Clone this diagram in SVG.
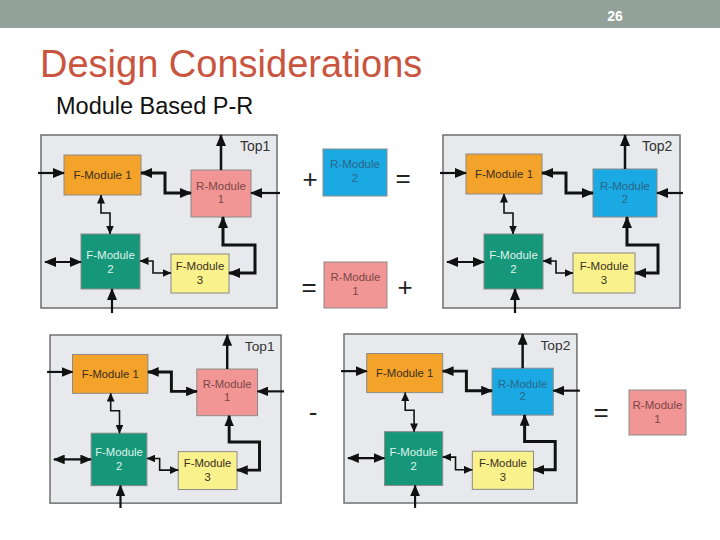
<svg xmlns="http://www.w3.org/2000/svg" width="720" height="540" viewBox="0 0 720 540">
<style>
.panel{fill:#e7e9ec;stroke:#6e6e6e;stroke-width:1.5}
.box{stroke:#8a8a8a;stroke-width:1}
.f1{fill:#f3a22a}
.f2{fill:#17977a}
.f3{fill:#f8f18c}
.r1{fill:#f29595}
.r2{fill:#1aa9e3}
.lbl{font-family:"Liberation Sans",Arial,sans-serif;font-size:11.5px;text-anchor:middle}
.dk{fill:#3b2f1c}
.lt{fill:#dff3ea}
.rr{fill:#7b4747}
.rb{fill:#2b6688}
.top{font-family:"Liberation Sans",Arial,sans-serif;font-size:14px;fill:#333}
.thin{fill:none;stroke:#111;stroke-width:1.6}
.thick{fill:none;stroke:#111;stroke-width:3}
.sym{font-family:"Liberation Sans",Arial,sans-serif;font-size:26px;fill:#222;text-anchor:middle}
</style>
<defs>
<marker id="ak" viewBox="0 0 12 10" refX="11" refY="5" markerWidth="12" markerHeight="10" markerUnits="userSpaceOnUse" orient="auto-start-reverse"><path d="M0,0 L12,5 L0,10 z" fill="#111"/></marker>
<marker id="an" viewBox="0 0 9 8" refX="8.5" refY="4" markerWidth="9" markerHeight="8" markerUnits="userSpaceOnUse" orient="auto-start-reverse"><path d="M0,0 L9,4 L0,8 z" fill="#111"/></marker>
</defs>
<rect x="0" y="0" width="720" height="28" fill="#92a199"/>
<text x="615" y="21" font-family="Liberation Sans,Arial,sans-serif" font-size="14" font-weight="bold" fill="#fff" text-anchor="middle">26</text>
<text x="40" y="77" font-family="Liberation Sans,Arial,sans-serif" font-size="38" fill="#c9553f">Design Considerations</text>
<text x="56" y="114" font-family="Liberation Sans,Arial,sans-serif" font-size="23.5" fill="#111">Module Based P-R</text>

<!-- Panel 1 -->
<g id="panel1" transform="translate(41,135)">
<rect class="panel" x="0" y="0" width="236" height="173"/>
<text class="top" x="199" y="16">Top1</text>
<g id="p1-fmod1"><rect class="box f1" x="23" y="20" width="77" height="40"/><text class="lbl dk" x="61.5" y="44">F-Module 1</text></g>
<g id="p1-rmod1"><rect class="box r1" x="150" y="35" width="60" height="47"/><text class="lbl rr" x="180" y="55">R-Module</text><text class="lbl rr" x="180" y="68">1</text></g>
<g id="p1-fmod2"><rect class="box f2" x="40" y="99" width="59" height="55"/><text class="lbl lt" x="69.5" y="124">F-Module</text><text class="lbl lt" x="69.5" y="138">2</text></g>
<g id="p1-fmod3"><rect class="box f3" x="130" y="119" width="58" height="39"/><text class="lbl dk" x="159" y="135">F-Module</text><text class="lbl dk" x="159" y="149">3</text></g>
<g id="p1-connectors">
<path class="thick" d="M-3,38 H23" marker-end="url(#ak)" style="stroke-width:2.2"/>
<path class="thick" d="M100,38 H124 V58 H150" marker-start="url(#ak)" marker-end="url(#ak)"/>
<path class="thick" d="M180,35 V0" marker-end="url(#ak)" style="stroke-width:2.5"/>
<path class="thick" d="M239,58 H210" marker-end="url(#ak)" style="stroke-width:2.2"/>
<path class="thin" d="M60,60 V78 H69 V99" marker-start="url(#an)" marker-end="url(#an)"/>
<path class="thick" d="M4,127 H40" marker-start="url(#ak)" marker-end="url(#ak)" style="stroke-width:2.2"/>
<path class="thick" d="M71,178 V154" marker-end="url(#ak)" style="stroke-width:2.2"/>
<path class="thin" d="M99,126 H112 V138 H130" marker-start="url(#an)" marker-end="url(#an)"/>
<path class="thick" d="M182,82 V110 H214 V138 H188" marker-start="url(#ak)" marker-end="url(#ak)"/>
</g>
</g>

<!-- middle top -->
<text class="sym" x="310" y="188">+</text>
<g id="rmod2-add"><rect class="box r2" x="323" y="149" width="64" height="47"/><text class="lbl rb" x="355" y="168">R-Module</text><text class="lbl rb" x="355" y="182">2</text></g>
<text class="sym" x="403" y="187">=</text>
<text class="sym" x="309" y="296">=</text>
<g id="rmod1-add"><rect class="box r1" x="324" y="262" width="63" height="46"/><text class="lbl rr" x="355.5" y="281">R-Module</text><text class="lbl rr" x="355.5" y="295">1</text></g>
<text class="sym" x="405" y="296">+</text>

<!-- Panel 2 -->
<g id="panel2" transform="translate(443,135)">
<rect class="panel" x="0" y="0" width="237" height="173"/>
<text class="top" x="199" y="16">Top2</text>
<g id="p2-fmod1"><rect class="box f1" x="23" y="19" width="76" height="40"/><text class="lbl dk" x="61" y="43">F-Module 1</text></g>
<g id="p2-rmod2"><rect class="box r2" x="150" y="34" width="64" height="48"/><text class="lbl rb" x="182" y="55">R-Module</text><text class="lbl rb" x="182" y="68">2</text></g>
<g id="p2-fmod2"><rect class="box f2" x="41" y="99" width="59" height="55"/><text class="lbl lt" x="70.5" y="124">F-Module</text><text class="lbl lt" x="70.5" y="138">2</text></g>
<g id="p2-fmod3"><rect class="box f3" x="130" y="118" width="62" height="40"/><text class="lbl dk" x="161" y="135">F-Module</text><text class="lbl dk" x="161" y="149">3</text></g>
<g id="p2-connectors">
<path class="thick" d="M-3,38 H23" marker-end="url(#ak)" style="stroke-width:2.2"/>
<path class="thick" d="M99,38 H123 V58 H150" marker-start="url(#ak)" marker-end="url(#ak)"/>
<path class="thick" d="M182,34 V0" marker-end="url(#ak)" style="stroke-width:2.5"/>
<path class="thick" d="M240,58 H214" marker-end="url(#ak)" style="stroke-width:2.2"/>
<path class="thin" d="M61,59 V78 H70 V99" marker-start="url(#an)" marker-end="url(#an)"/>
<path class="thick" d="M4,127 H41" marker-start="url(#ak)" marker-end="url(#ak)" style="stroke-width:2.2"/>
<path class="thick" d="M72,178 V154" marker-end="url(#ak)" style="stroke-width:2.2"/>
<path class="thin" d="M100,126 H113 V138 H130" marker-start="url(#an)" marker-end="url(#an)"/>
<path class="thick" d="M184,82 V110 H215 V138 H192" marker-start="url(#ak)" marker-end="url(#ak)"/>
</g>
</g>

<!-- Panel 3 -->
<g id="panel3" transform="translate(50,335) scale(0.979,0.972)">
<rect class="panel" x="0" y="0" width="236" height="173"/>
<text class="top" x="199" y="16">Top1</text>
<g id="p3-fmod1"><rect class="box f1" x="23" y="20" width="77" height="40"/><text class="lbl dk" x="61.5" y="44">F-Module 1</text></g>
<g id="p3-rmod1"><rect class="box r1" x="150" y="35" width="62" height="48"/><text class="lbl rr" x="181" y="55">R-Module</text><text class="lbl rr" x="181" y="68">1</text></g>
<g id="p3-fmod2"><rect class="box f2" x="42" y="101" width="57" height="54"/><text class="lbl lt" x="70.5" y="125">F-Module</text><text class="lbl lt" x="70.5" y="139">2</text></g>
<g id="p3-fmod3"><rect class="box f3" x="131" y="120" width="60" height="39"/><text class="lbl dk" x="161" y="136">F-Module</text><text class="lbl dk" x="161" y="150">3</text></g>
<g id="p3-connectors">
<path class="thick" d="M-3,38 H23" marker-end="url(#ak)" style="stroke-width:2.2"/>
<path class="thick" d="M100,38 H124 V58 H150" marker-start="url(#ak)" marker-end="url(#ak)"/>
<path class="thick" d="M181,35 V0" marker-end="url(#ak)" style="stroke-width:2.5"/>
<path class="thick" d="M239,58 H212" marker-end="url(#ak)" style="stroke-width:2.2"/>
<path class="thin" d="M62,60 V78 H71 V101" marker-start="url(#an)" marker-end="url(#an)"/>
<path class="thick" d="M4,128 H42" marker-start="url(#ak)" marker-end="url(#ak)" style="stroke-width:2.2"/>
<path class="thick" d="M72,178 V155" marker-end="url(#ak)" style="stroke-width:2.2"/>
<path class="thin" d="M99,127 H112 V139 H131" marker-start="url(#an)" marker-end="url(#an)"/>
<path class="thick" d="M183,83 V110 H214 V139 H191" marker-start="url(#ak)" marker-end="url(#ak)"/>
</g>
</g>

<text class="sym" x="313" y="421">-</text>

<!-- Panel 4 -->
<g id="panel4" transform="translate(344,334) scale(0.987,0.977)">
<rect class="panel" x="0" y="0" width="236" height="173"/>
<text class="top" x="199" y="16">Top2</text>
<g id="p4-fmod1"><rect class="box f1" x="23" y="20" width="77" height="40"/><text class="lbl dk" x="61.5" y="44">F-Module 1</text></g>
<g id="p4-rmod2"><rect class="box r2" x="150" y="35" width="62" height="48"/><text class="lbl rb" x="181" y="55">R-Module</text><text class="lbl rb" x="181" y="68">2</text></g>
<g id="p4-fmod2"><rect class="box f2" x="41" y="100" width="59" height="55"/><text class="lbl lt" x="70.5" y="125">F-Module</text><text class="lbl lt" x="70.5" y="139">2</text></g>
<g id="p4-fmod3"><rect class="box f3" x="130" y="120" width="62" height="39"/><text class="lbl dk" x="161" y="136">F-Module</text><text class="lbl dk" x="161" y="150">3</text></g>
<g id="p4-connectors">
<path class="thick" d="M-3,38 H23" marker-end="url(#ak)" style="stroke-width:2.2"/>
<path class="thick" d="M100,38 H124 V58 H150" marker-start="url(#ak)" marker-end="url(#ak)"/>
<path class="thick" d="M181,35 V0" marker-end="url(#ak)" style="stroke-width:2.5"/>
<path class="thick" d="M239,58 H212" marker-end="url(#ak)" style="stroke-width:2.2"/>
<path class="thin" d="M62,60 V78 H71 V100" marker-start="url(#an)" marker-end="url(#an)"/>
<path class="thick" d="M4,127 H41" marker-start="url(#ak)" marker-end="url(#ak)" style="stroke-width:2.2"/>
<path class="thick" d="M72,178 V155" marker-end="url(#ak)" style="stroke-width:2.2"/>
<path class="thin" d="M100,126 H113 V139 H130" marker-start="url(#an)" marker-end="url(#an)"/>
<path class="thick" d="M183,83 V110 H214 V139 H192" marker-start="url(#ak)" marker-end="url(#ak)"/>
</g>
</g>

<text class="sym" x="601" y="421">=</text>
<g id="rmod1-result"><rect class="box r1" x="629" y="390" width="57" height="45"/><text class="lbl rr" x="657.5" y="409">R-Module</text><text class="lbl rr" x="657.5" y="423">1</text></g>
</svg>
